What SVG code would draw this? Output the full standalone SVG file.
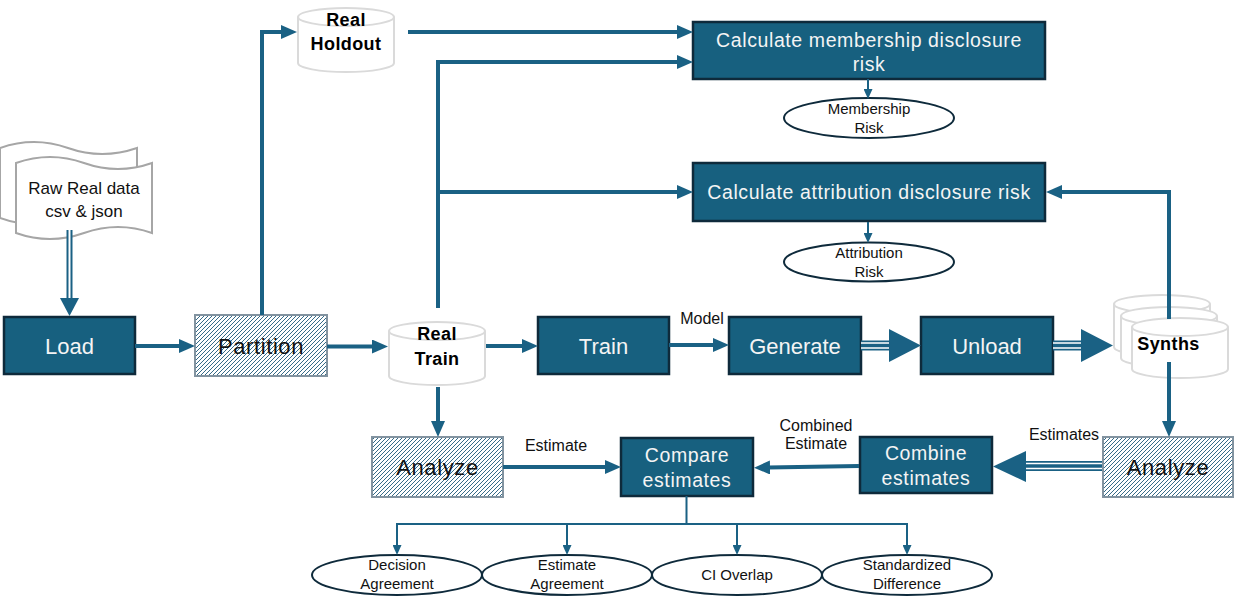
<svg xmlns="http://www.w3.org/2000/svg" width="1236" height="604" viewBox="0 0 1236 604">
<style>
text{font-family:"Liberation Sans",Arial,sans-serif}
.box{fill:#17607f;stroke:#0e2a3b;stroke-width:2.5}
.bt{fill:#f4f4f4;font-size:22px;text-anchor:middle}
.bt2{fill:#f4f4f4;font-size:19.5px;text-anchor:middle;letter-spacing:0.6px}
.hatch{fill:url(#hp);stroke:#8293a0;stroke-width:2}
.ht{fill:#111;font-size:22px;text-anchor:middle;letter-spacing:0.6px}
.cyl{fill:#fff;stroke:#dadada;stroke-width:2}
.ct{fill:#000;font-size:18px;font-weight:bold;text-anchor:middle;letter-spacing:0.4px}
.ell{fill:#fff;stroke:#0e2a3b;stroke-width:2}
.et{fill:#111;font-size:15px;text-anchor:middle}
.lbl{fill:#111;font-size:16px;text-anchor:middle}
.doc{fill:#fff;stroke:#a6a6a6;stroke-width:2}
.c{fill:none;stroke:#1a6184;stroke-width:4}
.ct2{fill:none;stroke:#1a6184;stroke-width:2}
.ah{fill:#1a6184}
</style>
<defs>
<pattern id="hp" patternUnits="userSpaceOnUse" width="4" height="4">
<rect width="4" height="4" fill="#fff"/>
<path d="M-1,1 l2,-2 M0,4 l4,-4 M3,5 l2,-2" stroke="#1f5a7b" stroke-width="0.9"/>
</pattern>
<marker id="a" markerUnits="userSpaceOnUse" markerWidth="16" markerHeight="14" viewBox="0 0 16 14" refX="2" refY="7" orient="auto">
<path d="M0,0 L16,7 L0,14 z" fill="#1a6184"/>
</marker>
<marker id="s" markerUnits="userSpaceOnUse" markerWidth="10" markerHeight="9" viewBox="0 0 10 9" refX="1" refY="4.5" orient="auto">
<path d="M0,0 L10,4.5 L0,9 z" fill="#1a6184"/>
</marker>
</defs>

<g id="raw-data">
<path class="doc" d="M0,148 Q34,136 68,148 T137,148 V218 Q103,206 68,218 T0,218 Z"/>
<path class="doc" d="M16,163 Q50,151 84,163 T152,163 V233 Q118,221 84,233 T16,233 Z"/>
<text x="84" y="194" style="font-size:17px;fill:#111;text-anchor:middle">Raw Real data</text>
<text x="84" y="217" style="font-size:17px;fill:#111;text-anchor:middle">csv &amp; json</text>
</g>

<g id="load"><rect class="box" x="4" y="317" width="131" height="57"/><text class="bt" x="69.5" y="353.5">Load</text></g>
<g id="partition"><rect class="hatch" x="195" y="315" width="132" height="61"/><text class="ht" x="261" y="353.5">Partition</text></g>

<g id="real-holdout">
<path class="cyl" d="M298,17 V63 A48,9 0 0 0 394,63 V17"/>
<ellipse class="cyl" cx="346" cy="17" rx="48" ry="9"/>
<text class="ct" x="346" y="26">Real</text>
<text class="ct" x="346" y="50">Holdout</text>
</g>

<g id="real-train">
<path class="cyl" d="M389,331 V376 A48,9 0 0 0 485,376 V331"/>
<ellipse class="cyl" cx="437" cy="331" rx="48" ry="9"/>
<text class="ct" x="437" y="340">Real</text>
<text class="ct" x="437" y="365">Train</text>
</g>

<g id="membership-calc"><rect class="box" x="693" y="22" width="352" height="57"/><text class="bt2" x="869" y="47">Calculate membership disclosure</text><text class="bt2" x="869" y="71">risk</text></g>
<g id="membership-risk"><ellipse class="ell" cx="869" cy="118" rx="85" ry="20"/><text class="et" x="869" y="114">Membership</text><text class="et" x="869" y="133">Risk</text></g>
<g id="attribution-calc"><rect class="box" x="693" y="163" width="352" height="58"/><text class="bt2" x="869" y="199">Calculate attribution disclosure risk</text></g>
<g id="attribution-risk"><ellipse class="ell" cx="869" cy="262" rx="85" ry="19.5"/><text class="et" x="869" y="258">Attribution</text><text class="et" x="869" y="277">Risk</text></g>

<g id="train"><rect class="box" x="538" y="317" width="131" height="57"/><text class="bt" x="603.5" y="353.5">Train</text></g>
<g id="generate"><rect class="box" x="729" y="317" width="132" height="57"/><text class="bt" x="795" y="353.5">Generate</text></g>
<g id="unload"><rect class="box" x="921" y="317" width="132" height="57"/><text class="bt" x="987" y="353.5">Unload</text></g>

<g id="synths">
<path class="cyl" d="M1114,304 V347 A48,9 0 0 0 1210,347 V304"/>
<ellipse class="cyl" cx="1162" cy="304" rx="48" ry="9"/>
<path class="cyl" d="M1121,316 V358 A48,9 0 0 0 1217,358 V316"/>
<ellipse class="cyl" cx="1169" cy="316" rx="48" ry="9"/>
<path class="cyl" d="M1132,327 V369 A48,9 0 0 0 1228,369 V327"/>
<ellipse class="cyl" cx="1180" cy="327" rx="48" ry="9"/>
<text class="ct" x="1168.5" y="350">Synths</text>
</g>

<g id="analyze-real"><rect class="hatch" x="372" y="437" width="131" height="60"/><text class="ht" x="437.5" y="475">Analyze</text></g>
<g id="compare"><rect class="box" x="621" y="438" width="132" height="58"/><text class="bt2" x="687" y="462">Compare</text><text class="bt2" x="687" y="487">estimates</text></g>
<g id="combine"><rect class="box" x="860" y="437" width="132" height="56"/><text class="bt2" x="926" y="460">Combine</text><text class="bt2" x="926" y="485">estimates</text></g>
<g id="analyze-synth"><rect class="hatch" x="1103" y="437" width="130" height="60"/><text class="ht" x="1168" y="475">Analyze</text></g>

<g id="decision-agreement"><ellipse class="ell" cx="397" cy="575" rx="85" ry="20"/><text class="et" x="397" y="570">Decision</text><text class="et" x="397" y="589">Agreement</text></g>
<g id="estimate-agreement"><ellipse class="ell" cx="567" cy="575" rx="85" ry="20"/><text class="et" x="567" y="570">Estimate</text><text class="et" x="567" y="589">Agreement</text></g>
<g id="ci-overlap"><ellipse class="ell" cx="737" cy="575" rx="85" ry="20"/><text class="et" x="737" y="580">CI Overlap</text></g>
<g id="standardized-difference"><ellipse class="ell" cx="907" cy="575" rx="85" ry="20"/><text class="et" x="907" y="570">Standardized</text><text class="et" x="907" y="589">Difference</text></g>

<g id="connectors">
<path d="M69.5,230 V299" stroke="#1a6184" stroke-width="6" fill="none"/>
<path d="M69.5,230 V299" stroke="#fff" stroke-width="2" fill="none"/>
<polygon class="ah" points="60,298 79,298 69.5,316"/>
<path class="c" d="M135,346 H181" marker-end="url(#a)"/>
<path class="c" d="M262,315 V32 H283" marker-end="url(#a)"/>
<path class="c" d="M408,32 H679" marker-end="url(#a)"/>
<path class="c" d="M438,308 V62 H679" marker-end="url(#a)"/>
<path class="c" d="M438,192 H679" marker-end="url(#a)"/>
<path class="ct2" d="M868,79 V90" marker-end="url(#s)"/>
<path class="ct2" d="M868,222 V234" marker-end="url(#s)"/>
<path class="c" d="M1169,319 V192 H1060" marker-end="url(#a)"/>
<path class="c" d="M327,346.5 H374" marker-end="url(#a)"/>
<path class="c" d="M486,346 H524" marker-end="url(#a)"/>
<path class="c" d="M669,345 H715" marker-end="url(#a)"/>
<text class="lbl" x="702" y="324">Model</text>
<path d="M861,345.5 H891" stroke="#1a6184" stroke-width="10" fill="none"/>
<path d="M861,343 H891 M861,348 H891" stroke="#fff" stroke-width="1.5" fill="none"/>
<polygon class="ah" points="889,329 921,345.5 889,362"/>
<path d="M1053,345.5 H1083" stroke="#1a6184" stroke-width="10" fill="none"/>
<path d="M1053,343 H1083 M1053,348 H1083" stroke="#fff" stroke-width="1.5" fill="none"/>
<polygon class="ah" points="1081,329 1113,345.5 1081,362"/>
<path class="c" d="M1169,362 V423" marker-end="url(#a)"/>
<path d="M1102,466 H1024" stroke="#1a6184" stroke-width="10" fill="none"/>
<path d="M1102,463.5 H1024 M1102,468.5 H1024" stroke="#fff" stroke-width="1.5" fill="none"/>
<polygon class="ah" points="1026,451 993,466.5 1026,482"/>
<text class="lbl" x="1064" y="440">Estimates</text>
<path class="c" d="M859,466 L768,467.5" marker-end="url(#a)"/>
<text class="lbl" x="816" y="431">Combined</text>
<text class="lbl" x="816" y="449">Estimate</text>
<path class="c" d="M438,387 V423" marker-end="url(#a)"/>
<path class="c" d="M503,467 H607" marker-end="url(#a)"/>
<text class="lbl" x="556" y="451">Estimate</text>
<path class="ct2" d="M686.5,496 V524 M396,524 H908"/>
<path class="ct2" d="M397,524 V546" marker-end="url(#s)"/>
<path class="ct2" d="M567,524 V546" marker-end="url(#s)"/>
<path class="ct2" d="M737,524 V546" marker-end="url(#s)"/>
<path class="ct2" d="M907,524 V546" marker-end="url(#s)"/>
</g>
</svg>
